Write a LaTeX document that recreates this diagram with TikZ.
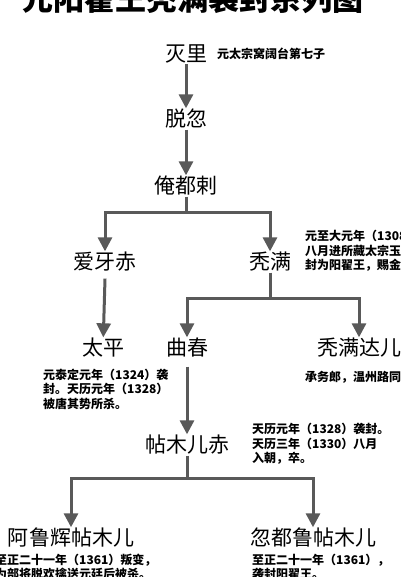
\documentclass[tikz,border=0pt]{standalone}
\usepackage{fontspec}
\usetikzlibrary{arrows.meta}
\newfontfamily\cjk{Noto Sans CJK SC}
\definecolor{linegray}{HTML}{595959}
\tikzset{
  titlestyle/.style={inner sep=0pt, font={\fontsize{31}{31}\selectfont\cjk\bfseries}},
  namestyle/.style={inner sep=0pt, outer sep=1pt, font={\fontsize{21}{21}\selectfont\cjk}},
  annstyle/.style={inner sep=0pt, anchor=west, align=left, font={\fontsize{12}{14.5}\selectfont\cjk\bfseries}},
  connstyle/.style={draw=linegray, line width=3pt},
  arrstyle/.style={connstyle, -{Triangle[width=14pt,length=14pt]}},
}
\begin{document}
\begin{tikzpicture}[x=1pt, y=-1pt]
\useasboundingbox (0,0) rectangle (400,577);
\clip (0,0) rectangle (400,577);
\fill[white] (0,0) rectangle (400,577);
% title
\node[titlestyle] (t) at (192.5,-1) {元阳翟王秃满袭封系列图};
% names
\node[namestyle] (mieli) at (186,54) {灭里};
\node[annstyle] (a1) at (217,54) {元太宗窝阔台第七子};
\node[namestyle] (tuohu) at (186,119) {脱忽};
\node[namestyle] (andu) at (186,186) {俺都剌};
\node[namestyle] (aiya) at (105,262) {爱牙赤};
\node[namestyle] (tuman) at (270,262) {秃满};
\node[annstyle] (a2) at (305,251) {元至大元年（1308）\\八月进所藏太宗玉玺，\\封为阳翟王，赐金印};
\node[namestyle] (taiping) at (103,348) {太平};
\node[namestyle] (quchun) at (187,348) {曲春};
\node[namestyle] (tumanda) at (359,348) {秃满达儿};
\node[annstyle] (a3) at (43,389) {元泰定元年（1324）袭\\封。天历元年（1328）\\被唐其势所杀。};
\node[annstyle] (a4) at (305,377) {承务郎，温州路同知};
\node[namestyle] (tiemu) at (187,445) {帖木儿赤};
\node[annstyle] (a5) at (252,444) {天历元年（1328）袭封。\\天历三年（1330）八月\\入朝，卒。};
\node[namestyle] (alu) at (71,538) {阿鲁辉帖木儿};
\node[namestyle] (hudu) at (313,538) {忽都鲁帖木儿};
\node[annstyle] (a6) at (-5,567) {至正二十一年（1361）叛变，\\为部将脱欢擒送元廷后被杀。};
\node[annstyle] (a7) at (252,567) {至正二十一年（1361），\\袭封阳翟王。};
% connectors
\coordinate (b1) at (186,212);
\coordinate (b2) at (270,298);
\coordinate (b3) at (187,478);
\draw[arrstyle] (mieli) -- (tuohu);
\draw[arrstyle] (tuohu) -- (andu);
\draw[connstyle] (andu) -- (b1);
\draw[arrstyle] (b1) -| (aiya);
\draw[arrstyle] (b1) -| (tuman);
\draw[arrstyle] ([yshift=-6pt]aiya.south) -- (taiping);
\draw[connstyle] (tuman) -- (b2);
\draw[arrstyle] (b2) -| (quchun);
\draw[arrstyle] (b2) -| (tumanda);
\draw[arrstyle] ([yshift=-8pt]quchun.south) -- (tiemu);
\draw[connstyle] (tiemu) -- (b3);
\draw[arrstyle] (b3) -| (alu);
\draw[arrstyle] (b3) -| (hudu);
\end{tikzpicture}
\end{document}
